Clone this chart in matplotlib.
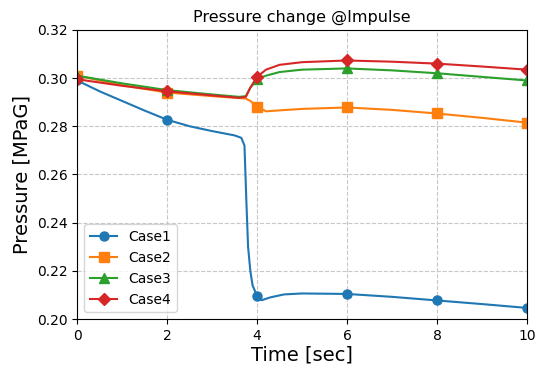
import numpy as np
import matplotlib
matplotlib.use('Agg')
import matplotlib.pyplot as plt

# values (time in sec, pressure in MPaG)
t_case1 = [0, 0.5, 1.0, 1.5, 2.0, 2.5, 3.0, 3.5, 3.65, 3.72, 3.76, 3.8, 3.85, 3.9, 4.0, 4.1, 4.3, 4.6, 5.0, 6.0, 7.0, 8.0, 9.0, 10.0]
p_case1 = [0.2990, 0.2945, 0.2905, 0.2865, 0.2827, 0.2800, 0.2780, 0.2762, 0.2752, 0.2720, 0.2500, 0.2300, 0.2200, 0.2140, 0.2095, 0.2078, 0.2090, 0.2102, 0.2106, 0.2104, 0.2092, 0.2077, 0.2062, 0.2046]

t_case2 = [0, 1.0, 2.0, 3.0, 3.6, 3.75, 3.85, 4.0, 4.2, 4.5, 5.0, 6.0, 7.0, 8.0, 9.0, 10.0]
p_case2 = [0.3010, 0.2970, 0.2940, 0.2925, 0.2917, 0.2915, 0.2905, 0.2882, 0.2862, 0.2866, 0.2872, 0.2878, 0.2868, 0.2853, 0.2835, 0.2815]

t_case3 = [0, 1.0, 2.0, 3.0, 3.6, 3.75, 3.85, 4.0, 4.2, 4.5, 5.0, 6.0, 7.0, 8.0, 9.0, 10.0]
p_case3 = [0.3010, 0.2978, 0.2950, 0.2932, 0.2922, 0.2925, 0.2960, 0.2995, 0.3010, 0.3025, 0.3035, 0.3040, 0.3032, 0.3020, 0.3005, 0.2990]

t_case4 = [0, 1.0, 2.0, 3.0, 3.6, 3.75, 3.85, 4.0, 4.2, 4.5, 5.0, 6.0, 7.0, 8.0, 9.0, 10.0]
p_case4 = [0.2995, 0.2968, 0.2945, 0.2928, 0.2918, 0.2922, 0.2960, 0.3005, 0.3035, 0.3055, 0.3066, 0.3073, 0.3068, 0.3060, 0.3048, 0.3035]

mark_times = [0, 2, 4, 6, 8, 10]


def mark_idx(t):
    return [i for i, v in enumerate(t) if v in mark_times]


fig = plt.figure(figsize=(5.36, 3.69), dpi=100)
ax = fig.add_axes([0.144, 0.1355, 0.839, 0.7835])

ax.plot(t_case1, p_case1, marker='o', markersize=6.5, lw=1.5, markevery=mark_idx(t_case1), color='#1f77b4', label='Case1')
ax.plot(t_case2, p_case2, marker='s', markersize=6.5, lw=1.5, markevery=mark_idx(t_case2), color='#ff7f0e', label='Case2')
ax.plot(t_case3, p_case3, marker='^', markersize=6.5, lw=1.5, markevery=mark_idx(t_case3), color='#2ca02c', label='Case3')
ax.plot(t_case4, p_case4, marker='D', markersize=6.5, lw=1.5, markevery=mark_idx(t_case4), color='#d62728', label='Case4')

ax.set_xlim(0, 10)
ax.set_ylim(0.20, 0.32)
ax.set_xticks([0, 2, 4, 6, 8, 10])
ax.set_yticks(np.arange(0.20, 0.321, 0.02))
ax.yaxis.set_major_formatter(matplotlib.ticker.FormatStrFormatter('%.2f'))
ax.tick_params(labelsize=10)
ax.grid(True, linestyle='--', color='#c8c8c8', lw=0.8)

ax.set_title('Pressure change @Impulse', fontsize=11.5)
ax.set_xlabel('Time [sec]', fontsize=14, labelpad=2)
ax.set_ylabel('Pressure [MPaG]', fontsize=14)
ax.legend(loc='lower left', fontsize=10)

fig.savefig('out.png', dpi=100)
